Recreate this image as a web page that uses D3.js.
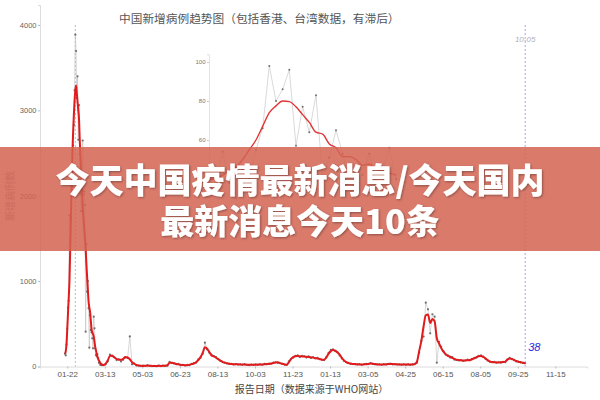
<!DOCTYPE html>
<html><head><meta charset="utf-8">
<script src="https://cdn.jsdelivr.net/npm/d3@7/dist/d3.min.js"></script>
<style>
html,body{margin:0;padding:0;background:#fff;}
svg{display:block;font-family:"Liberation Sans","DejaVu Sans",sans-serif;}
</style></head><body>
<svg id="chart" width="600" height="400"></svg>
<script>
// ---------------- data ----------------
const titleText = "中国新增病例趋势图（包括香港、台湾数据，有滞后）";
const xAxisTitle = "报告日期（数据来源于WHO网站）";
const yAxisTitle = "新增病例数";
const bannerLines = ["今天中国疫情最新消息/今天国内", "最新消息今天10条"];

const yTicks = [0, 1000, 2000, 3000, 4000];
const xTickDates = ["2020-01-22","2020-03-13","2020-05-03","2020-06-23","2020-08-13","2020-10-03",
  "2020-11-23","2021-01-13","2021-03-05","2021-04-25","2021-06-15","2021-08-05","2021-09-25","2021-11-15"];
const xDomain = ["2019-12-16", "2021-12-28"];

// daily values, 2020-01-19 .. 2020-03-10
const earlyStart = "2020-01-19";
const earlyCases = [149,131,259,444,688,769,1771,1459,1737,1982,
  2102,2590,2829,3235,3887,3694,3143,3399,2656,3062,
  2484,2022,1820,1998,2647,2009,2051,1891,408,1432,
  876,1000,682,220,600,428,400,330,213,583,
  447,213,135,120,143,99,44,40,19,24,15,20];
const earlyTrend = [150,180,260,430,620,800,1000,1366,1750,2150,
  2500,2750,2950,3120,3230,3290,3200,3100,3000,2900,
  2650,2450,2250,2050,1880,1740,1620,1500,1380,1200,
  1050,900,760,690,640,540,440,400,380,350,
  290,230,190,150,115,90,70,55,40,30,25,18];

// every 3 days, 2020-03-11 .. 2021-10-05
const laterStart = "2020-03-11";
const laterStep = 3;
const laterCases = [15,25,60,140,120,110,75,85,60,80,
  105,100,352,25,35,12,10,5,10,6,
  17,8,5,8,4,10,5,12,6,10,
  55,40,35,28,30,15,20,12,18,15,
  30,40,45,85,100,150,279,200,160,140,
  125,110,90,65,50,45,35,30,30,22,
  28,22,25,20,28,20,15,22,18,25,
  20,24,20,30,25,35,32,45,50,42,
  38,30,22,18,60,85,105,125,130,110,
  125,120,105,118,100,110,95,100,85,78,
  75,105,160,195,200,180,170,130,95,65,
  50,42,30,28,25,22,28,20,25,30,
  28,40,30,25,22,26,20,28,22,30,
  35,25,28,22,26,20,25,20,24,18,
  25,30,45,160,300,350,748,670,389,612,
  584,45,290,230,180,140,130,105,110,80,
  75,70,75,65,70,80,72,90,100,105,
  125,130,115,90,70,55,50,55,45,50,
  45,55,50,85,100,85,78,60,55,48,
  42,38];
const laterTrend = [17,30,70,125,130,105,90,78,78,90,
  110,105,85,50,32,18,12,8,7,8,
  8,8,7,6,6,8,7,8,10,15,
  45,45,38,30,25,20,18,15,15,20,
  28,35,50,75,110,160,225,210,170,130,
  118,105,85,70,55,45,38,32,28,26,
  25,25,24,23,22,21,20,20,20,21,
  22,22,24,26,28,30,35,42,48,50,
  40,32,25,20,50,90,110,120,122,120,
  118,116,115,112,108,104,98,94,88,80,
  80,110,150,180,192,185,165,140,100,70,
  52,40,35,30,28,25,24,24,25,26,
  30,35,33,28,25,24,23,24,25,28,
  30,28,26,25,24,24,23,22,22,22,
  22,28,56,180,300,470,600,610,510,555,
  530,330,270,215,174,145,125,115,100,88,
  78,75,72,70,72,74,76,85,95,110,
  120,123,112,96,75,60,52,50,48,48,
  50,52,58,80,95,90,75,65,55,50,
  45,38];

const peakDate = "2020-02-02";
const latestDate = "2021-10-05";
const latestLabel = "10-05";
const latestValue = 38;

// inset (zoomed recent days)
const insetCases = [45,40,54,38,30,45,40,55,66,98,80,86,96,57,77,64,83,40,51,65,53,38,45,42,53,40,44,56,40];
const insetTrend = [40,40,42,44,46,50,55,60,67,74,77.5,80,79.7,77,73,69,64,63,58,56,51.5,51.5,50,47,47.7,45,44,43,42];
const insetTicks = [60, 80, 100];

// ---------------- drawing ----------------
const svg = d3.select("#chart");
const parse = d3.timeParse("%Y-%m-%d");

const x = d3.scaleTime().domain(xDomain.map(parse)).range([40, 587]);
const y = d3.scaleLinear().domain([0, 4234]).range([366.5, 5]);

const e0 = parse(earlyStart), l0 = parse(laterStart);
const series = earlyCases.map((v, i) => ({date: d3.timeDay.offset(e0, i), v, t: earlyTrend[i]}))
  .concat(laterCases.map((v, i) => ({date: d3.timeDay.offset(l0, i * laterStep), v, t: laterTrend[i]})));

// axes
const yAxis = svg.append("g").attr("transform", "translate(40,0)")
  .call(d3.axisLeft(y).tickValues(yTicks).tickSize(2).tickPadding(1.5).tickFormat(d3.format("d")));
yAxis.select(".domain").attr("stroke", "#dcdcdc");
yAxis.selectAll(".tick line").attr("stroke", "#bbb");
yAxis.selectAll("text").attr("fill", "#666").style("font-size", "7.5px");

const xAxis = svg.append("g").attr("transform", "translate(0,366.5)")
  .call(d3.axisBottom(x).tickValues(xTickDates.map(parse)).tickSize(2).tickPadding(3).tickFormat(d3.timeFormat("%m-%d")));
xAxis.select(".domain").attr("stroke", "#dcdcdc");
xAxis.selectAll(".tick line").attr("stroke", "#bbb");
xAxis.selectAll("text").attr("fill", "#555").style("font-size", "8px");

// peak marker
svg.append("line")
  .attr("x1", x(parse(peakDate))).attr("x2", x(parse(peakDate)))
  .attr("y1", y(4000)).attr("y2", y(0))
  .attr("stroke", "#aaa").attr("stroke-width", 0.8).attr("stroke-dasharray", "2,2");

// latest marker
svg.append("line")
  .attr("x1", x(parse(latestDate))).attr("x2", x(parse(latestDate)))
  .attr("y1", y(4000)).attr("y2", y(0))
  .attr("stroke", "#8a8ff0").attr("stroke-width", 0.8).attr("stroke-dasharray", "2,2");
svg.append("text").attr("x", x(parse(latestDate))).attr("y", 42)
  .attr("text-anchor", "middle").attr("fill", "#b0b0bc").style("font-size", "8px")
  .style("font-style", "italic").text(latestLabel);

// daily line + dots
svg.append("path").datum(series)
  .attr("fill", "none").attr("stroke", "#c6c6c6").attr("stroke-width", 0.7)
  .attr("d", d3.line().x(d => x(d.date)).y(d => y(d.v)));
svg.append("g").selectAll("circle").data(series).join("circle")
  .attr("cx", d => x(d.date)).attr("cy", d => y(d.v)).attr("r", 1.1)
  .attr("fill", "#6f6f6f");

// trend
svg.append("path").datum(series)
  .attr("fill", "none").attr("stroke", "#e31a1c").attr("stroke-width", 2)
  .attr("stroke-linejoin", "round")
  .attr("d", d3.line().x(d => x(d.date)).y(d => y(d.t)).curve(d3.curveMonotoneX));

// latest value label
svg.append("text").attr("x", x(parse(latestDate)) + 3).attr("y", 351)
  .attr("fill", "#2a2ae0").style("font-size", "11px").style("font-style", "italic")
  .text(latestValue);

// titles
svg.append("text").attr("x", 119).attr("y", 22.5)
  .attr("fill", "#555").style("font-size", "11.7px")
  .style("font-family", "'Noto Sans CJK SC', sans-serif").text(titleText);
svg.append("text").attr("x", 311.5).attr("y", 393)
  .attr("text-anchor", "middle").attr("fill", "#444").style("font-size", "10px")
  .style("font-family", "'Noto Sans CJK SC', sans-serif").text(xAxisTitle);
svg.append("text").attr("transform", "translate(14,196) rotate(-90)")
  .attr("text-anchor", "middle").attr("fill", "#999").style("font-size", "10px")
  .style("font-family", "'Noto Sans CJK SC', sans-serif").text(yAxisTitle);

// inset
const ix = d3.scaleLinear().domain([0, insetCases.length - 1]).range([209.3, 396]);
const iy = d3.scaleLinear().domain([20, 104]).range([218, 54.2]);
const iAxis = svg.append("g").attr("transform", "translate(209,0)")
  .call(d3.axisLeft(iy).tickValues(insetTicks).tickSize(2).tickPadding(1.5));
iAxis.select(".domain").attr("stroke", "#e2e2e2");
iAxis.selectAll(".tick line").attr("stroke", "#ccc");
iAxis.selectAll("text").attr("fill", "#777").style("font-size", "6px");
svg.append("path").datum(insetCases)
  .attr("fill", "none").attr("stroke", "#cfcfcf").attr("stroke-width", 0.8)
  .attr("d", d3.line().x((d, i) => ix(i)).y(d => iy(d)));
svg.append("g").selectAll("circle").data(insetCases).join("circle")
  .attr("cx", (d, i) => ix(i)).attr("cy", d => iy(d)).attr("r", 1)
  .attr("fill", "#707070");
svg.append("path").datum(insetTrend)
  .attr("fill", "none").attr("stroke", "#e23434").attr("stroke-width", 1.4)
  .attr("d", d3.line().x((d, i) => ix(i)).y(d => iy(d)).curve(d3.curveMonotoneX));

// banner overlay
const defs = svg.append("defs");
const f = defs.append("filter").attr("id", "ts").attr("x", "-10%").attr("y", "-30%").attr("width", "120%").attr("height", "160%");
f.append("feDropShadow").attr("dx", 1).attr("dy", 1).attr("stdDeviation", 1)
  .attr("flood-color", "#000").attr("flood-opacity", 0.35);
svg.append("rect").attr("x", 0).attr("y", 147).attr("width", 600).attr("height", 104)
  .attr("fill", "rgb(211,100,83)").attr("fill-opacity", 0.86);
const bannerText = svg.append("text")
  .attr("text-anchor", "middle")
  .attr("fill", "#fff").attr("filter", "url(#ts)")
  .style("font-family", "'Noto Sans CJK SC', sans-serif")
  .style("font-weight", "900").style("font-size", "34px");
bannerText.selectAll("tspan").data(bannerLines).join("tspan")
  .attr("x", 300).attr("y", (d, i) => 193 + i * 41)
  .text(d => d);
</script>
</body></html>
